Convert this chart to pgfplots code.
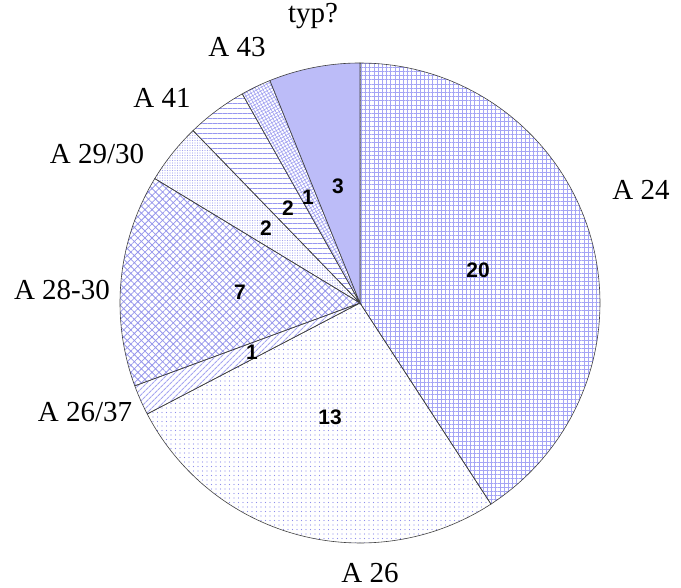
\documentclass[border=0pt]{standalone}
\usepackage{pgfplots}
\pgfplotsset{compat=1.18}
\usepackage{fontspec}
\setmainfont{Liberation Serif}
\newfontfamily\arial{Liberation Sans}
\usetikzlibrary{patterns.meta}
\definecolor{pA}{RGB}{165,165,245}
\definecolor{pB}{RGB}{140,140,235}
\definecolor{pC}{RGB}{165,165,240}
\definecolor{pD}{RGB}{150,150,235}
\definecolor{pE}{RGB}{165,165,240}
\definecolor{pF}{RGB}{150,150,240}
\definecolor{pG}{RGB}{160,160,240}
\definecolor{typfill}{RGB}{188,188,248}
% slice values (clockwise from 12 o'clock)
\def\vA{20}\def\vB{13}\def\vC{1}\def\vD{7}\def\vE{2}\def\vF{2}\def\vG{1}\def\vH{3}
\pgfmathsetmacro\tot{\vA+\vB+\vC+\vD+\vE+\vF+\vG+\vH}
\pgfmathsetmacro\u{360/\tot}
\pgfmathsetmacro\aA{90}
\pgfmathsetmacro\aB{\aA-\vA*\u}
\pgfmathsetmacro\aC{\aB-\vB*\u}
\pgfmathsetmacro\aD{\aC-\vC*\u}
\pgfmathsetmacro\aE{\aD-\vD*\u}
\pgfmathsetmacro\aF{\aE-\vE*\u}
\pgfmathsetmacro\aG{\aF-\vF*\u}
\pgfmathsetmacro\aH{\aG-\vG*\u}
\pgfmathsetmacro\aI{\aH-\vH*\u}
\begin{document}
\begin{tikzpicture}
\begin{axis}[
  scale only axis, width=681pt, height=588pt,
  xmin=0, xmax=681, ymin=0, ymax=588,
  hide axis, clip=false,
  every axis plot/.append style={draw=black!75, line width=0.6pt, samples=90, variable=\t},
]
\addplot[pattern={Hatch[angle=0,distance=4.2pt,line width=0.6pt]}, pattern color=pA, domain=\aA:\aB]
  ({360+240*cos(\t)},{285+240*sin(\t)}) -- (axis cs:360,285) -- cycle;
\addplot[pattern={Dots[distance=4.5pt,radius=0.6pt]}, pattern color=pB, domain=\aB:\aC]
  ({360+240*cos(\t)},{285+240*sin(\t)}) -- (axis cs:360,285) -- cycle;
\addplot[pattern={Lines[angle=45,distance=4pt,line width=1.2pt]}, pattern color=pC, domain=\aC:\aD]
  ({360+240*cos(\t)},{285+240*sin(\t)}) -- (axis cs:360,285) -- cycle;
\addplot[pattern={Hatch[angle=45,distance=5pt,line width=0.8pt]}, pattern color=pD, domain=\aD:\aE]
  ({360+240*cos(\t)},{285+240*sin(\t)}) -- (axis cs:360,285) -- cycle;
\addplot[pattern={Dots[distance=2.5pt,radius=0.7pt]}, pattern color=pE, domain=\aE:\aF]
  ({360+240*cos(\t)},{285+240*sin(\t)}) -- (axis cs:360,285) -- cycle;
\addplot[pattern={Lines[angle=0,distance=5pt,line width=0.8pt]}, pattern color=pF, domain=\aF:\aG]
  ({360+240*cos(\t)},{285+240*sin(\t)}) -- (axis cs:360,285) -- cycle;
\addplot[pattern={Hatch[angle=30,distance=3pt,line width=0.6pt]}, pattern color=pG, domain=\aG:\aH]
  ({360+240*cos(\t)},{285+240*sin(\t)}) -- (axis cs:360,285) -- cycle;
\addplot[fill=typfill, domain=\aH:\aI]
  ({360+240*cos(\t)},{285+240*sin(\t)}) -- (axis cs:360,285) -- cycle;
% outer labels
\begin{scope}[every node/.style={font=\fontsize{29}{30}\selectfont, inner sep=0pt, anchor=base}]
\node at (axis cs:313,565) {typ?};
\node at (axis cs:237,531) {A 43};
\node at (axis cs:162,480) {A 41};
\node at (axis cs:97,424) {A 29/30};
\node at (axis cs:641,388) {A 24};
\node at (axis cs:62,288) {A 28-30};
\node at (axis cs:85,166) {A 26/37};
\node at (axis cs:370,5) {A 26};
\end{scope}
% value labels
\begin{scope}[every node/.style={font=\arial\bfseries\fontsize{21}{22}\selectfont, inner sep=0pt}]
\node at (axis cs:478,318) {20};
\node at (axis cs:330,171) {13};
\node at (axis cs:252,236) {1};
\node at (axis cs:240,296) {7};
\node at (axis cs:266,360) {2};
\node at (axis cs:288,380) {2};
\node at (axis cs:308,391) {1};
\node at (axis cs:338,402) {3};
\end{scope}
\end{axis}
\pgfresetboundingbox
\path[use as bounding box] (0,0) rectangle (681pt,588pt);
\end{tikzpicture}
\end{document}
